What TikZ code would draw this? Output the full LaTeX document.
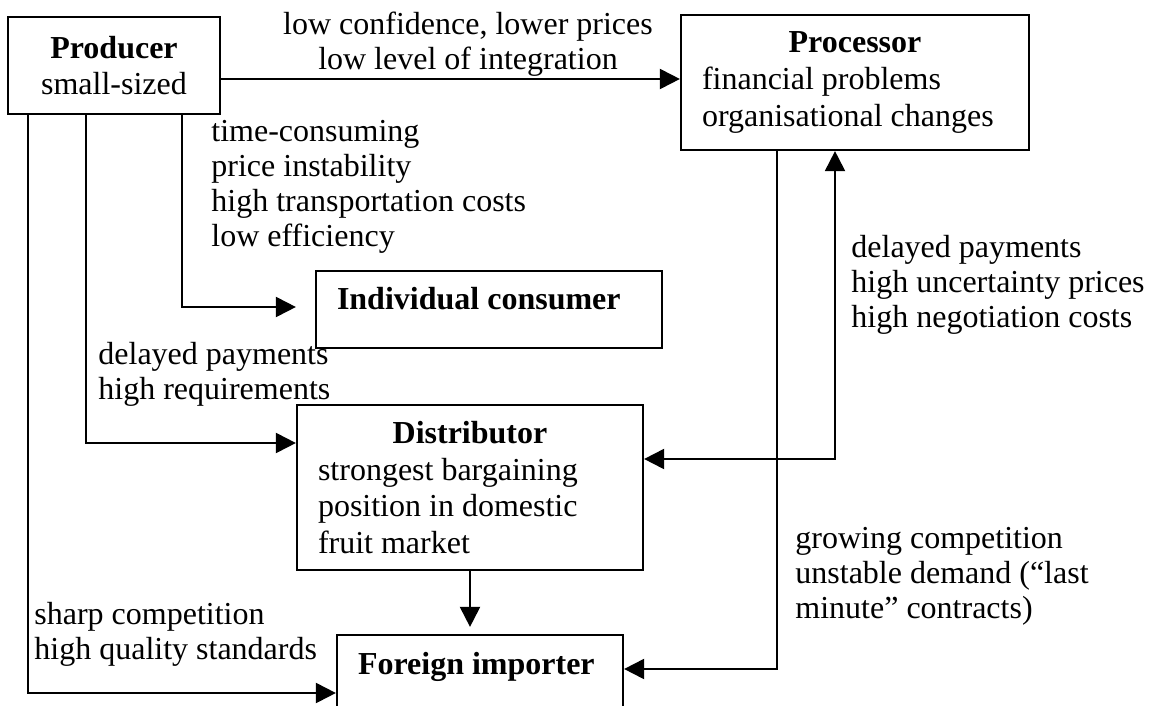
\documentclass[tikz,border=0pt]{standalone}
\usepackage{fontspec}
\setmainfont{Liberation Serif}
\usetikzlibrary{arrows.meta}

\newcommand{\boxhead}[1]{\makebox[\linewidth]{\textbf{#1}}}

\begin{document}
\begin{tikzpicture}[x=0.5pt, y=-0.5pt,
  actor/.style={rectangle, draw, line width=1.1pt, inner xsep=10.5pt, inner ysep=0pt, align=flush left, font=\fontsize{16pt}{18.3pt}\selectfont},
  note/.style={inner sep=0pt, align=left, anchor=north west, font=\fontsize{16pt}{17.5pt}\selectfont},
  arr/.style={line width=1pt, -{Triangle[length=10pt, width=10pt]}},
  both/.style={line width=1pt, {Triangle[length=10pt, width=10pt]}-{Triangle[length=10pt, width=10pt]}}
]
  \clip (0,0) rectangle (1150,706);

  \node[actor, align=center, minimum width=106pt, minimum height=48.5pt] (producer) at (114,65.5) {\textbf{Producer}\\small-sized};
  \node[actor, text width=153pt, minimum height=67.5pt] (processor) at (855,82.5) {\boxhead{Processor}\\financial problems\\organisational changes};
  \node[actor, text width=152pt, minimum height=38.5pt, text depth=11.5pt] (consumer) at (489,309.5) {\textbf{Individual consumer}};
  \node[actor, text width=152pt, minimum height=82.5pt] (distributor) at (470,487.5) {\boxhead{Distributor}\\strongest bargaining\\position in domestic\\fruit market};
  \node[actor, text width=122pt, minimum height=39pt, text depth=11pt] (importer) at (480,674) {\textbf{Foreign importer}};

  \node[note, anchor=north, align=center] (tradenote) at (468,12) {low confidence, lower prices\\low level of integration};
  \node[note] (consumernote) at (211,120) {time-consuming\\price instability\\high transportation costs\\low efficiency};
  \node[note] (distnote) at (98,342) {delayed payments\\high requirements};
  \node[note] (exportnote) at (34,602) {sharp competition\\high quality standards};
  \node[note] (procnote) at (851,235) {delayed payments\\high uncertainty prices\\high negotiation costs};
  \node[note] (foreignnote) at (795,527) {growing competition\\unstable demand (“last\\minute” contracts)};

  \coordinate (prodout) at ([yshift=-6.75pt]producer.east);
  \draw[arr] (prodout) -- (prodout -| processor.west);
  \draw[arr, shorten >=9.5pt] ([xshift=34pt]producer.south) |- ([yshift=1.25pt]consumer.west);
  \draw[arr] ([xshift=-14pt]producer.south) |- ([yshift=22.25pt]distributor.west);
  \draw[arr] ([xshift=-43pt]producer.south) |- ([yshift=-9.5pt]importer.west);
  \draw[arr, shorten >=3.5pt] (distributor.south) -- (distributor.south |- importer.north);
  \draw[arr] ([xshift=-39pt]processor.south) |- ([yshift=2.5pt]importer.east);
  \draw[both] ([xshift=-10pt]processor.south) |- ([yshift=14.25pt]distributor.east);
\end{tikzpicture}
\end{document}
